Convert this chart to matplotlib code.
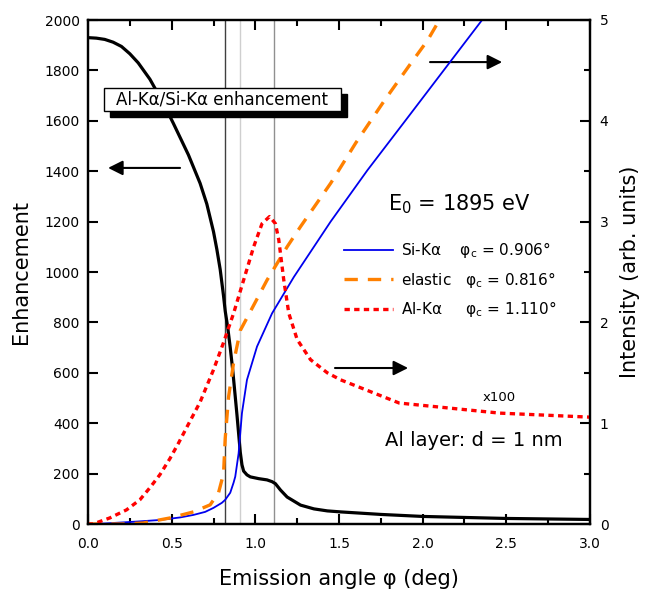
import matplotlib
matplotlib.use("Agg")
import matplotlib.pyplot as plt
from matplotlib.patches import Rectangle
from matplotlib.ticker import MultipleLocator

# ---------------- data ----------------
enh_phi = [0.00, 0.05, 0.10, 0.15, 0.20, 0.25, 0.30, 0.37, 0.45, 0.51, 0.60, 0.67,
           0.71, 0.73, 0.75, 0.77, 0.79, 0.81, 0.82, 0.835, 0.85, 0.865, 0.88, 0.89,
           0.90, 0.91, 0.92, 0.93, 0.95, 0.97, 1.02, 1.07, 1.10, 1.12, 1.15, 1.19,
           1.27, 1.35, 1.43, 1.51, 1.75, 2.00, 2.50, 3.00]
enh_val = [1930, 1928, 1923, 1912, 1895, 1866, 1830, 1765, 1670, 1590, 1465, 1352,
           1270, 1215, 1160, 1090, 1010, 905, 845, 780, 700, 610, 505, 435,
           360, 285, 235, 210, 195, 187, 180, 175, 168, 160, 135, 107,
           75, 60, 52, 48, 38, 30, 22, 18]

si_phi = [0.00, 0.10, 0.20, 0.30, 0.43, 0.55, 0.63, 0.70, 0.75, 0.80, 0.82, 0.85,
          0.87, 0.88, 0.90, 0.91, 0.92, 0.95, 1.01, 1.10, 1.23, 1.37, 1.45, 1.67,
          1.905, 2.355]
si_val = [0.0, 0.005, 0.015, 0.025, 0.04, 0.065, 0.09, 0.12, 0.16, 0.21, 0.24, 0.31,
          0.41, 0.47, 0.70, 0.90, 1.10, 1.43, 1.76, 2.09, 2.45, 2.80, 3.00, 3.51,
          4.02, 5.00]

el_phi = [0.00, 0.20, 0.33, 0.49, 0.63, 0.73, 0.78, 0.81, 0.82, 0.84, 0.87, 0.91,
          0.99, 1.07, 1.19, 1.27, 1.45, 1.60, 1.775, 1.925, 2.03, 2.10]
el_val = [0.0, 0.0, 0.01, 0.06, 0.12, 0.19, 0.31, 0.50, 0.85, 1.26, 1.60, 1.92,
          2.17, 2.42, 2.75, 2.95, 3.38, 3.78, 4.21, 4.56, 4.80, 5.00]

al_phi = [0.00, 0.03, 0.13, 0.23, 0.31, 0.37, 0.43, 0.49, 0.54, 0.60, 0.67, 0.75,
          0.81, 0.87, 0.93, 0.99, 1.04, 1.085, 1.12, 1.14, 1.17, 1.20, 1.25, 1.33,
          1.43, 1.51, 1.86, 2.46, 3.00]
al_val = [0.0, 0.0, 0.06, 0.14, 0.24, 0.36, 0.49, 0.65, 0.80, 0.99, 1.21, 1.53,
          1.80, 2.09, 2.42, 2.75, 2.98, 3.05, 2.98, 2.82, 2.42, 2.09, 1.83, 1.63,
          1.50, 1.43, 1.20, 1.10, 1.06]

crit_angles = [0.816, 0.906, 1.110]
crit_colors = ["#404040", "#cfcfcf", "#909090"]

legend_labels = ["Si-K\u03b1    \u03c6$_\\mathrm{c}$ = 0.906\u00b0",
                 "elastic   \u03c6$_\\mathrm{c}$ = 0.816\u00b0",
                 "Al-K\u03b1     \u03c6$_\\mathrm{c}$ = 1.110\u00b0"]

xticks = [0.0, 0.5, 1.0, 1.5, 2.0, 2.5, 3.0]
yticks_left = [0, 200, 400, 600, 800, 1000, 1200, 1400, 1600, 1800, 2000]
yticks_right = [0, 1, 2, 3, 4, 5]

# ---------------- figure ----------------
plt.rcParams['font.family'] = ['DejaVu Sans']
plt.rcParams['mathtext.fontset'] = 'dejavusans'

fig = plt.figure(figsize=(6.51, 5.90), dpi=100)
ax = fig.add_axes([88/651, 1-524/590, (590-88)/651, (524-20)/590])
ax2 = ax.twinx()

for a, c in zip(crit_angles, crit_colors):
    ax.axvline(a, color=c, lw=1.0, zorder=1)

ax.plot(enh_phi, enh_val, color='black', lw=2.3, zorder=5)

l1, = ax2.plot(si_phi, si_val, color='#0000ee', lw=1.3)
l2, = ax2.plot(el_phi, el_val, color='#ff8000', lw=2.4, dashes=(4, 3))
l3, = ax2.plot(al_phi, al_val, color='#ff0000', lw=2.4, dashes=(1.6, 1.3))

ax.set_xlim(0, 3.0)
ax.set_ylim(0, 2000)
ax2.set_ylim(0, 5)
ax.set_xticks(xticks)
ax.set_xticklabels([f"{v:.1f}" for v in xticks])
ax.set_yticks(yticks_left)
ax2.set_yticks(yticks_right)
ax.xaxis.set_minor_locator(MultipleLocator(0.25))
ax2.yaxis.set_minor_locator(MultipleLocator(0.5))

for a in (ax, ax2):
    for s in a.spines.values():
        s.set_linewidth(1.6)
ax.tick_params(which='major', direction='in', length=7, width=1.5, labelsize=10,
               top=True, pad=6)
ax.tick_params(axis='x', which='major', pad=9)
ax.tick_params(which='minor', direction='in', length=4, width=1.5, top=True)
ax.tick_params(axis='y', which='minor', left=False)
ax2.tick_params(which='major', direction='in', length=7, width=1.5, labelsize=10, pad=7)
ax2.tick_params(which='minor', direction='in', length=4, width=1.5)

ax.set_xlabel("Emission angle \u03c6 (deg)", fontsize=15, labelpad=13)
ax.set_ylabel("Enhancement", fontsize=15, labelpad=10)
ax2.set_ylabel("Intensity (arb. units)", fontsize=15, labelpad=8)

# arrows
arr = dict(arrowstyle='-|>', mutation_scale=22, lw=1.5, color='black',
           shrinkA=0, shrinkB=0)
ax.annotate("", xy=(0.12, 1413), xytext=(0.55, 1413), arrowprops=arr)
ax.annotate("", xy=(2.475, 1833), xytext=(2.044, 1833), arrowprops=arr)
ax.annotate("", xy=(1.913, 619), xytext=(1.476, 619), arrowprops=arr)

# boxed title with shadow
bx0, by0 = (104-88)/502, (524-111)/504
bw, bh = (341-104)/502, (111-88)/504
ax.add_patch(Rectangle((bx0+6/502, by0-6/504), bw, bh, transform=ax.transAxes,
                       facecolor='black', edgecolor='black', zorder=8))
ax.add_patch(Rectangle((bx0, by0), bw, bh, transform=ax.transAxes,
                       facecolor='white', edgecolor='black', lw=1.0, zorder=9))
ax.text(bx0 + bw/2, by0 + bh/2, "Al-K\u03b1/Si-K\u03b1 enhancement", transform=ax.transAxes,
        ha='center', va='center', fontsize=12, zorder=10)

ax.text(1.793, 1246, "E$_0$ = 1895 eV", fontsize=15, ha='left', va='baseline')
ax.text(1.776, 310, "Al layer: d = 1 nm", fontsize=14, ha='left', va='baseline')
ax.text(2.36, 490, "x100", fontsize=9.5, ha='left', va='baseline')

leg = ax2.legend([l1, l2, l3], legend_labels, loc='upper left',
                 bbox_to_anchor=((338-88)/502, (524-234)/504), frameon=False,
                 fontsize=11, handlelength=3.2, handletextpad=0.5, labelspacing=0.62,
                 borderaxespad=0)

fig.savefig("out.png", dpi=100)
